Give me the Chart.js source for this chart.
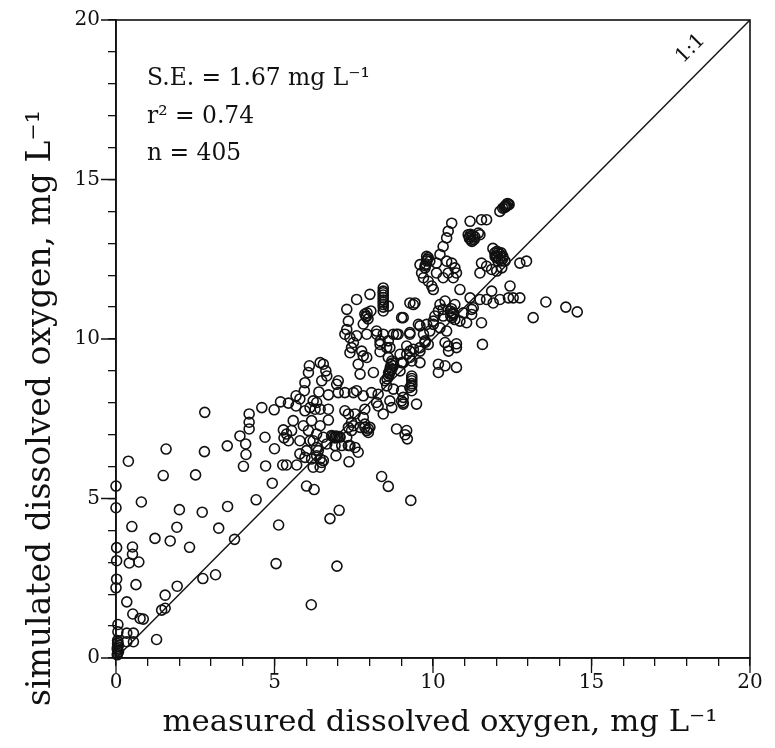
<!DOCTYPE html>
<html>
<head>
<meta charset="utf-8">
<script src="https://cdn.jsdelivr.net/npm/chart.js@4.4.1/dist/chart.umd.min.js"></script>
<style>
  html, body { margin: 0; padding: 0; background: #fff; }
  #wrap { width: 775px; height: 748px; }
</style>
</head>
<body>
<div id="wrap"><canvas id="chart" width="775" height="748"></canvas></div>
<script>
// measured (x) vs simulated (y) dissolved oxygen, mg/L

// low values, scattered near the origin and under the main band
const lowMeasured = [
  0.05, 0.05, 0.05, 0.05, 0.05, 0.08, 0.08, 0.06, 0.06, 0.34,
  0.55, 0.34, 0.55, 0.34, 0.53, 0.76, 0.86, 1.28, 1.44, 1.55,
  1.55, 0.63, 0.0, 0.02, 0.02, 0.42, 0.72, 0.52, 0.52, 0.02,
  1.23, 1.71, 2.32, 0.5, 1.92, 3.24, 1.93, 2.74, 3.14, 3.74,
  0.8, 2.0, 2.72, 3.52, 0.0, 0.0, 1.49, 2.51, 0.39, 1.58,
  2.79, 3.51, 3.91, 4.09, 4.1, 4.02, 4.7, 4.72, 5.0, 4.93,
  4.42, 5.13, 5.05, 6.16, 6.01, 6.25, 2.8, 6.75, 7.04, 6.97,
  8.38, 8.59, 9.3
];
const lowSimulated = [
  0.15, 0.25, 0.35, 0.45, 0.55, 0.2, 0.4, 0.82, 1.05, 0.78,
  0.78, 0.51, 0.51, 1.76, 1.38, 1.24, 1.22, 0.58, 1.5, 1.56,
  1.97, 2.3, 2.2, 2.47, 3.05, 2.98, 3.01, 3.25, 3.48, 3.46,
  3.75, 3.67, 3.47, 4.12, 4.1, 4.07, 2.25, 2.49, 2.61, 3.72,
  4.89, 4.65, 4.57, 4.75, 4.71, 5.39, 5.72, 5.74, 6.17, 6.55,
  6.47, 6.65, 6.96, 6.71, 6.38, 6.01, 6.92, 6.02, 6.56, 5.48,
  4.96, 4.17, 2.96, 1.67, 5.39, 5.28, 7.7, 4.37, 4.63, 2.88,
  5.69, 5.38, 4.94
];

// lower part of the band, measured 4-7
const bandMeasured = [
  4.2, 4.2, 4.2, 4.6, 4.99, 5.19, 5.44, 5.68, 5.68, 5.94,
  5.96, 6.07, 6.1, 6.44, 6.54, 6.62, 6.65, 6.49, 6.4, 6.7,
  6.22, 6.33, 6.12, 6.28, 5.8, 5.96, 6.44, 6.7, 5.59, 5.91,
  6.17, 6.44, 6.7, 5.28, 5.38, 5.44, 5.54, 5.8, 6.07, 6.33,
  6.54, 6.12, 6.22, 6.01, 6.33, 6.65, 5.8, 6.17, 6.44, 6.33,
  6.38, 6.22, 6.44, 6.49, 6.54, 5.96, 5.26, 5.38, 5.7, 5.3
];
const bandSimulated = [
  7.65, 7.39, 7.18, 7.85, 7.78, 8.03, 7.99, 7.9, 8.22, 8.38,
  8.63, 8.95, 9.16, 9.26, 9.21, 9.0, 8.84, 8.69, 8.34, 8.25,
  8.06, 8.01, 7.85, 7.8, 8.12, 7.75, 7.8, 7.8, 7.44, 7.28,
  7.44, 7.28, 7.46, 7.15, 7.02, 6.81, 7.13, 6.81, 7.13, 7.02,
  6.92, 6.81, 6.81, 6.5, 6.6, 6.71, 6.4, 6.24, 6.24, 6.34,
  6.5, 5.98, 5.98, 6.13, 6.19, 6.29, 6.05, 6.05, 6.05, 6.9
];

// middle of the band, measured 7-10
const midMeasured = [
  6.8, 6.85, 6.91, 7.0, 7.07, 6.9, 6.91, 7.12, 7.33, 6.94,
  7.35, 7.64, 7.38, 7.54, 7.28, 7.33, 7.43, 7.22, 7.33, 7.49,
  7.7, 7.85, 7.96, 7.8, 7.85, 7.91, 7.85, 8.01, 7.96, 7.43,
  7.54, 8.22, 8.27, 8.43, 8.64, 8.7, 8.85, 9.01, 9.06, 9.17,
  9.19, 9.48, 7.8, 8.06, 7.49, 7.59, 7.22, 7.01, 6.96, 7.01,
  8.12, 7.7, 7.64, 7.8, 7.91, 7.75, 8.33, 8.33, 8.22, 7.91,
  7.59, 7.38, 7.22, 7.43, 7.49, 7.38, 8.75, 8.9, 8.54, 8.59,
  8.7, 8.75, 8.64, 8.59, 8.49, 8.54, 8.68, 8.6, 8.72, 8.96,
  9.01, 9.27, 9.38, 9.59, 9.59, 8.96, 9.33, 9.33, 9.33, 9.33,
  9.27, 8.75, 9.01, 8.27, 9.17, 9.27, 9.7, 9.9, 9.75, 9.06,
  9.06, 9.17, 9.33, 9.06, 9.06, 9.38, 9.12
];
const midSimulated = [
  6.97, 6.95, 6.94, 6.93, 6.92, 6.9, 6.66, 6.66, 6.66, 6.34,
  6.15, 6.45, 6.66, 6.6, 6.92, 7.23, 7.13, 7.75, 7.65, 7.28,
  7.23, 7.23, 7.18, 7.54, 7.8, 7.13, 7.33, 7.23, 7.07, 7.39,
  7.65, 8.01, 7.9, 7.65, 8.06, 7.85, 7.18, 8.06, 8.01, 7.13,
  6.87, 7.96, 8.22, 8.32, 8.32, 8.38, 8.32, 8.32, 8.58, 8.69,
  8.95, 8.9, 9.21, 9.47, 9.42, 9.62, 9.83, 9.6, 10.15, 10.15,
  10.1, 10.04, 10.15, 9.73, 9.89, 9.57, 10.15, 10.15, 9.73, 9.42,
  9.31, 9.16, 9.0, 8.84, 8.69, 8.53, 9.2, 8.95, 9.25, 9.52,
  9.26, 9.42, 9.68, 9.26, 9.62, 9.0, 8.84, 8.69, 8.53, 8.38,
  8.48, 8.43, 8.38, 8.27, 9.78, 10.15, 10.15, 10.25, 9.89, 8.17,
  7.96, 9.52, 9.31, 9.26, 10.67, 11.08, 7.0
];

// upper part of the band, simulated above ~9
const highMeasured = [
  12.27, 12.38, 12.32, 12.2, 12.11, 12.3, 11.17, 11.53, 11.69, 10.59,
  10.48, 10.43, 10.32, 10.22, 10.11, 11.11, 11.23, 11.32, 11.15, 11.43,
  11.48, 11.89, 12.02, 12.11, 12.21, 12.27, 12.05, 11.96, 12.15, 12.0,
  11.53, 11.69, 11.85, 12.01, 12.17, 12.74, 12.95, 11.48, 9.8, 9.9,
  9.75, 9.64, 9.7, 9.85, 9.59, 9.82, 9.78, 10.11, 10.43, 10.59,
  10.69, 10.74, 10.64, 10.48, 10.32, 9.96, 10.01, 10.85, 10.38, 10.32,
  10.69, 11.17, 11.27, 11.48, 11.69, 11.85, 11.9, 12.11, 12.38, 12.53,
  12.74, 12.43, 13.16, 13.56, 14.19, 14.55, 11.53, 11.56, 11.06, 10.85,
  10.74, 10.48, 10.38, 10.74, 10.49, 10.17, 10.38, 10.74, 10.17, 10.22,
  10.32, 10.22, 10.01, 10.06, 10.64, 10.69, 10.96, 11.22, 11.22, 10.54,
  10.64, 10.6, 10.58, 8.43, 8.43, 8.43, 8.43, 8.43, 8.43, 8.01,
  8.59, 7.59, 7.28, 7.33, 7.28, 7.85, 7.95, 7.8, 8.04, 7.9,
  9.27, 9.43, 9.01, 8.22, 8.43, 8.85, 9.59, 9.8, 10.01, 8.33,
  8.59, 8.64, 9.27, 9.59, 9.85, 10.43, 9.75, 9.27, 9.54, 10.17
];
const highSimulated = [
  14.16, 14.21, 14.18, 14.1, 14.0, 14.2, 13.69, 13.74, 13.74, 13.63,
  13.38, 13.17, 12.9, 12.65, 12.38, 13.27, 13.06, 13.2, 13.15, 13.32,
  13.27, 12.84, 12.75, 12.66, 12.53, 12.44, 12.44, 12.59, 12.7, 12.55,
  12.38, 12.28, 12.18, 12.13, 12.23, 12.38, 12.44, 12.07, 12.59, 12.44,
  12.23, 12.07, 11.92, 11.81, 12.33, 12.5, 12.35, 12.07, 12.44, 12.38,
  12.23, 12.07, 11.92, 12.07, 11.92, 11.66, 11.55, 11.55, 11.19, 10.93,
  11.08, 11.29, 10.98, 11.24, 11.24, 11.5, 11.13, 11.24, 11.29, 11.29,
  11.29, 11.66, 10.67, 11.16, 11.0, 10.85, 10.51, 9.83, 10.51, 10.56,
  9.73, 9.78, 9.89, 9.85, 9.62, 9.21, 9.16, 9.11, 8.95, 11.08,
  10.72, 10.35, 10.46, 10.72, 10.82, 10.61, 10.82, 10.93, 10.77, 10.88,
  10.77, 10.67, 10.95, 11.6, 11.45, 11.3, 11.15, 11.0, 10.88, 11.4,
  11.03, 11.24, 10.93, 10.56, 10.3, 10.78, 10.63, 10.47, 10.88, 10.7,
  11.13, 11.13, 10.67, 10.25, 10.15, 10.15, 10.41, 10.46, 10.56, 9.94,
  9.94, 9.73, 9.62, 9.73, 9.83, 10.25, 9.94, 10.2, 10.46, 10.88
];

// extra overlapping readings inside the solid-black clumps
const clumpMeasured = [
  11.15, 11.2, 11.25, 11.18, 11.3, 12.0, 12.1, 12.05, 12.2, 11.95,
  12.15, 12.3, 12.35, 12.25, 12.4, 8.43, 8.43, 8.43, 8.43, 9.8,
  9.85, 9.75, 8.65, 8.7, 8.62, 8.55, 6.95, 7.05, 0.04, 0.06,
  0.04, 10.6, 10.56, 7.88, 7.92, 9.33, 9.33
];
const clumpSimulated = [
  13.2, 13.1, 13.25, 13.28, 13.12, 12.6, 12.5, 12.7, 12.6, 12.7,
  12.45, 14.15, 14.25, 14.12, 14.22, 11.5, 11.38, 11.22, 11.08, 12.45,
  12.55, 12.3, 9.1, 9.05, 8.9, 8.75, 6.96, 6.94, 0.3, 0.5,
  0.1, 10.8, 10.72, 10.72, 10.82, 8.6, 8.76
];

// 1:1 reference line end points
const oneToOne = [0, 20];

const axisMin = 0;
const axisMax = 20;
const majorTicks = [0, 5, 10, 15, 20];

const statLines = ['S.E. = 1.67 mg L\u207B\u00B9', 'r\u00B2 = 0.74', 'n = 405'];
const xTitle = 'measured dissolved oxygen, mg L\u207B\u00B9';
const yTitle = 'simulated dissolved oxygen, mg L\u207B\u00B9';

const SERIF = '"DejaVu Serif", "Liberation Serif", serif';
const INK = '#111';

function toPoints(xs, ys) {
  return xs.map((v, i) => ({ x: v, y: ys[i] }));
}

const points = [
  ...toPoints(lowMeasured, lowSimulated),
  ...toPoints(bandMeasured, bandSimulated),
  ...toPoints(midMeasured, midSimulated),
  ...toPoints(highMeasured, highSimulated),
  ...toPoints(clumpMeasured, clumpSimulated)
];

// font size that makes a string span the given width
function fitSize(ctx, text, width) {
  ctx.font = '20px ' + SERIF;
  return 20 * width / ctx.measureText(text).width;
}

const decorations = {
  id: 'decorations',
  afterDraw(chart) {
    const { ctx, chartArea: a, scales: { x, y } } = chart;
    ctx.save();
    ctx.strokeStyle = INK;
    ctx.fillStyle = INK;

    // box round the plot
    ctx.lineWidth = 1.6;
    ctx.strokeRect(a.left, a.top, a.right - a.left, a.bottom - a.top);

    // longer marks at the labelled ticks
    ctx.lineWidth = 1.3;
    ctx.beginPath();
    majorTicks.forEach(v => {
      const px = x.getPixelForValue(v);
      ctx.moveTo(px, a.bottom);
      ctx.lineTo(px, a.bottom + 15);
      const py = y.getPixelForValue(v);
      ctx.moveTo(a.left, py);
      ctx.lineTo(a.left - 15, py);
    });
    ctx.stroke();

    // stats block
    const statSize = fitSize(ctx, statLines[0], 223);
    ctx.font = statSize.toFixed(1) + 'px ' + SERIF;
    ctx.textAlign = 'left';
    ctx.textBaseline = 'alphabetic';
    statLines.forEach((t, i) => ctx.fillText(t, a.left + 31, a.top + 65 + i * 37.5));

    // 1:1 label along the line
    const lx = x.getPixelForValue(18.6) - 15;
    const ly = y.getPixelForValue(18.6) - 16;
    const ang = Math.atan2(y.getPixelForValue(20) - y.getPixelForValue(0),
                           x.getPixelForValue(20) - x.getPixelForValue(0));
    ctx.save();
    ctx.translate(lx, ly);
    ctx.rotate(ang);
    ctx.font = '20px ' + SERIF;
    ctx.textAlign = 'center';
    ctx.textBaseline = 'middle';
    ctx.fillText('1:1', 0, 0);
    ctx.restore();

    // axis titles
    const xs = fitSize(ctx, xTitle, 555);
    ctx.font = xs.toFixed(1) + 'px ' + SERIF;
    ctx.textAlign = 'center';
    ctx.textBaseline = 'alphabetic';
    ctx.fillText(xTitle, 440, 731);

    const ys = fitSize(ctx, yTitle, 595);
    ctx.save();
    ctx.translate(50, 408);
    ctx.rotate(-Math.PI / 2);
    ctx.font = ys.toFixed(1) + 'px ' + SERIF;
    ctx.fillText(yTitle, 0, 0);
    ctx.restore();

    ctx.restore();
  }
};

function axis(isX) {
  return {
    type: 'linear',
    min: axisMin,
    max: axisMax,
    ticks: {
      stepSize: 1,
      autoSkip: false,
      maxRotation: 0,
      padding: isX ? 5 : 8,
      color: INK,
      font: { family: SERIF, size: 20 },
      callback: v => (v % 5 === 0 ? v : '')
    },
    grid: { drawOnChartArea: false, tickLength: 8, color: INK, lineWidth: 1.3 },
    border: { color: INK, width: 1.6 },
    afterFit: s => {
      if (isX) s.height = 90; else s.width = 116;
    }
  };
}

new Chart(document.getElementById('chart'), {
  data: {
    datasets: [
      {
        type: 'scatter',
        data: points,
        pointStyle: 'circle',
        pointRadius: 5,
        borderColor: INK,
        borderWidth: 1.6,
        backgroundColor: 'rgba(0,0,0,0)',
        clip: false
      },
      {
        type: 'line',
        data: toPoints(oneToOne, oneToOne),
        borderColor: INK,
        borderWidth: 1.4,
        pointRadius: 0,
        tension: 0
      }
    ]
  },
  options: {
    responsive: false,
    animation: false,
    layout: { padding: { top: 18, right: 25, left: 0, bottom: 0 } },
    plugins: { legend: { display: false }, tooltip: { enabled: false } },
    scales: { x: axis(true), y: axis(false) }
  },
  plugins: [decorations]
});
</script>
</body>
</html>
